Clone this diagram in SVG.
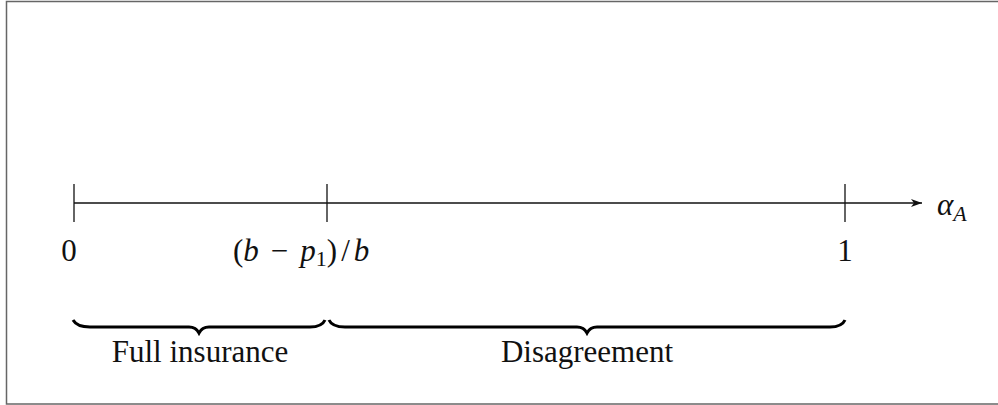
<svg xmlns="http://www.w3.org/2000/svg" width="998" height="405" viewBox="0 0 998 405">
<defs>
<style>
.ax{stroke:#111;stroke-width:1.3;fill:none}
.br{stroke:#000;stroke-width:3;fill:none;stroke-linecap:butt}
.t{font-family:"Liberation Serif","DejaVu Serif",serif;font-size:31px;fill:#111}
.m{font-family:"Liberation Serif","DejaVu Serif",serif;font-style:italic}
</style>
<marker id="arr" markerWidth="12" markerHeight="10" refX="11" refY="5" orient="auto" markerUnits="userSpaceOnUse">
<path d="M0,1 L11,5 L0,9 L3,5 Z" fill="#111"/>
</marker>
</defs>
<rect x="0" y="0" width="998" height="405" fill="#fff"/>
<rect x="6.5" y="1.5" width="998" height="402.5" fill="none" stroke="#666" stroke-width="1.5"/>
<g id="connectors">
<line class="ax" x1="74" y1="203" x2="922" y2="203" marker-end="url(#arr)"/>
</g>
<g id="tick0"><line class="ax" x1="74" y1="184" x2="74" y2="222"/><text class="t" x="69" y="261" text-anchor="middle">0</text></g>
<g id="tick1"><line class="ax" x1="327" y1="184" x2="327" y2="222"/><text class="t" x="233" y="261" font-size="32">(<tspan class="m">b</tspan><tspan dx="12">−</tspan><tspan class="m" dx="12">p</tspan><tspan font-size="22" dy="5">1</tspan><tspan dy="-5">)</tspan><tspan dx="4">/</tspan><tspan class="m" dx="4">b</tspan></text></g>
<g id="tick2"><line class="ax" x1="845" y1="184" x2="845" y2="222"/><text class="t" x="845" y="261" text-anchor="middle">1</text></g>
<g id="axislabel"><text class="t" x="937" y="215"><tspan class="m">α</tspan><tspan class="m" font-size="22" dy="6">A</tspan></text></g>
<g id="brace1">
<path class="br" d="M73,320 Q77,327 90,327 L189,327 Q196,327 199,333 Q202,327 209,327 L310,327 Q322,327 325,320"/>
<text class="t" x="200" y="362" text-anchor="middle">Full insurance</text>
</g>
<g id="brace2">
<path class="br" d="M329,320 Q332,327 345,327 L577,327 Q584,327 587,333 Q590,327 597,327 L830,327 Q842,327 845,320"/>
<text class="t" x="587" y="362" text-anchor="middle">Disagreement</text>
</g>
</svg>
